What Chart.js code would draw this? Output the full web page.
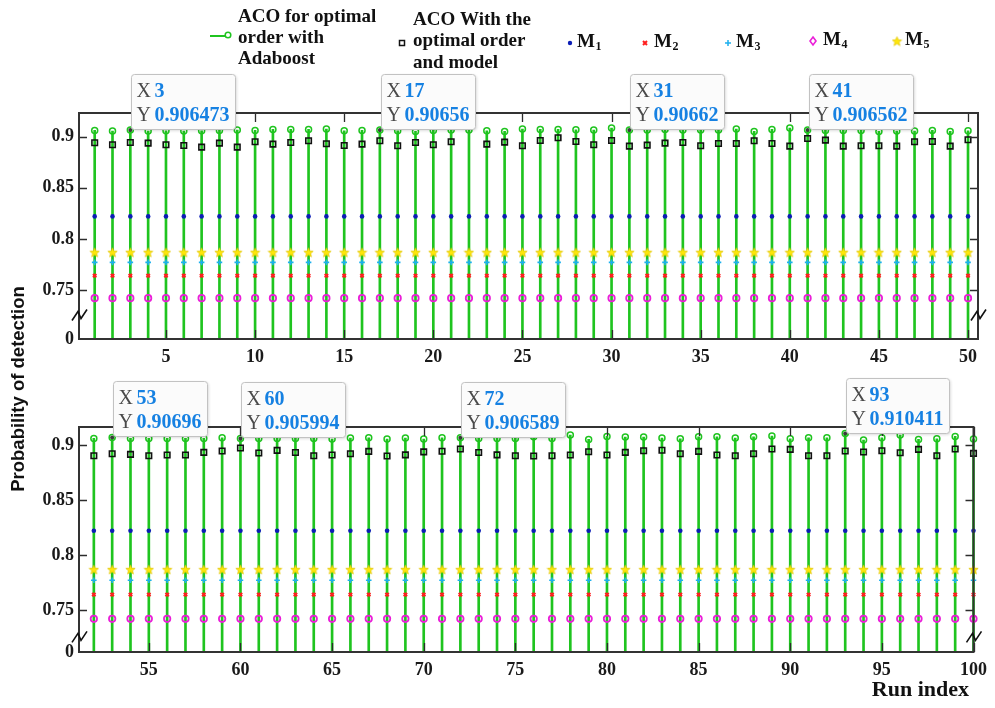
<!DOCTYPE html>
<html>
<head>
<meta charset="utf-8">
<script src="https://cdn.jsdelivr.net/npm/chart.js@4"></script>
<style>
  html, body { margin: 0; padding: 0; background: #ffffff; }
  #wrap { position: relative; width: 995px; height: 708px; }
  #wrap canvas { position: absolute; left: 0; top: 0; }
</style>
</head>
<body>
<div id="wrap">
  <canvas id="panelTop" width="995" height="708"></canvas>
  <canvas id="panelBottom" width="995" height="708"></canvas>
</div>
<script>
// ---- run indices (x categories) ----
const runsTop = [1, 2, 3, 4, 5, 6, 7, 8, 9, 10, 11, 12, 13, 14, 15, 16, 17, 18, 19, 20,
  21, 22, 23, 24, 25, 26, 27, 28, 29, 30, 31, 32, 33, 34, 35, 36, 37, 38, 39, 40,
  41, 42, 43, 44, 45, 46, 47, 48, 49, 50];
const runsBottom = [52, 53, 54, 55, 56, 57, 58, 59, 60, 61, 62, 63, 64, 65, 66, 67, 68, 69, 70,
  71, 72, 73, 74, 75, 76, 77, 78, 79, 80, 81, 82, 83, 84, 85, 86, 87, 88, 89, 90,
  91, 92, 93, 94, 95, 96, 97, 98, 99, 100];

// ---- ACO for optimal order with Adaboost ----
const acoAdaboostTop = [0.90615, 0.90549, 0.906473, 0.90549, 0.90582, 0.90549, 0.90582, 0.90615, 0.90647, 0.90615,
  0.90713, 0.90713, 0.90713, 0.90745, 0.90582, 0.90615, 0.90656, 0.90582, 0.90516, 0.90615,
  0.90647, 0.90647, 0.90582, 0.90516, 0.90745, 0.90713, 0.90713, 0.9068, 0.90647, 0.90843,
  0.90662, 0.90647, 0.90713, 0.90647, 0.90647, 0.90647, 0.90745, 0.90516, 0.90713, 0.90843,
  0.906562, 0.90615, 0.90615, 0.90615, 0.90516, 0.90549, 0.90549, 0.90615, 0.90516, 0.90582];
const acoAdaboostBottom = [0.90605, 0.90696, 0.90605, 0.90605, 0.90605, 0.90605, 0.90605, 0.90666, 0.905994,
  0.90605, 0.90605, 0.90605, 0.90605, 0.90545, 0.90636, 0.90666, 0.90545, 0.90636, 0.90545,
  0.90666, 0.906589, 0.90605, 0.90605, 0.90605, 0.90757, 0.90605, 0.90908, 0.90514, 0.90787,
  0.90726, 0.90726, 0.90636, 0.90575, 0.90757, 0.90757, 0.90636, 0.90757, 0.90817, 0.90575,
  0.90666, 0.90666, 0.910411, 0.90454, 0.90666, 0.90908, 0.90514, 0.90575, 0.90787, 0.90545];

// ---- ACO with the optimal order and model ----
const acoModelTop = [0.89405, 0.89208, 0.89437, 0.89372, 0.89208, 0.89143, 0.88979, 0.89372, 0.88979, 0.89503,
  0.89274, 0.89437, 0.89601, 0.89307, 0.89143, 0.89274, 0.89601, 0.8911, 0.89437, 0.89208,
  0.89503, null, 0.89274, 0.8947, 0.8911, 0.89634, 0.89895, 0.89535, 0.89208, 0.89634,
  0.89078, 0.89176, 0.89372, 0.89437, 0.8911, 0.8934, 0.8934, 0.89601, 0.8934, 0.89078,
  0.8983, 0.89666, 0.89078, 0.8911, 0.8911, 0.89078, 0.89503, 0.89535, 0.89078, 0.89699];
const acoModelBottom = [0.8903, 0.89211, 0.89151, 0.8903, 0.8909, 0.8909, 0.89332, 0.89454, 0.89726,
  0.89272, 0.89514, 0.89317, 0.8903, 0.8909, 0.89211, 0.89423, 0.89, 0.89105, 0.89378,
  0.89439, 0.89636, 0.89317, 0.89105, 0.8903, 0.89, 0.8903, 0.8909, 0.89393, 0.8909,
  0.89332, 0.89484, 0.8953, 0.89211, 0.89423, 0.8909, 0.8903, 0.89211, 0.89636, 0.89605,
  0.8903, 0.8903, 0.89454, 0.89363, 0.89484, 0.89302, 0.89605, 0.8903, 0.89636, 0.89242];

// ---- single models: constant detection probability over all runs ----
const modelNames = ['M1', 'M2', 'M3', 'M4', 'M5'];
const modelLevels = [0.822, 0.764, 0.777, 0.742, 0.787];

// ---- ticks and annotated runs ----
const xTicksTop = [5, 10, 15, 20, 25, 30, 35, 40, 45, 50];
const xTicksBottom = [55, 60, 65, 70, 75, 80, 85, 90, 95, 100];
const yTicks = [0.75, 0.8, 0.85, 0.9];
const yBreakLabel = '0';
const tipRunsTop = [3, 17, 31, 41];
const tipRunsBottom = [53, 60, 72, 93];

const legendAdaboost = ['ACO for optimal', 'order with', 'Adaboost'];
const legendModel = ['ACO With the', 'optimal order', 'and model'];

// ---- styling ----
const SERIF = "'Liberation Serif', 'Times New Roman', serif";
const SANS = "'Liberation Sans', Arial, sans-serif";
const GREEN = '#1fc41f';
const MODEL_COLORS = ['#0b1db6', '#ff1e1e', '#1cb0ee', '#ea1fd8', '#ffe20a'];

function starImage(size, fill, stroke) {
  const c = document.createElement('canvas');
  c.width = size; c.height = size;
  const g = c.getContext('2d');
  const cx = size / 2, cy = size / 2 + 0.6, R = size / 2 - 0.6, r = R * 0.45;
  g.beginPath();
  for (let i = 0; i < 10; i++) {
    const a = -Math.PI / 2 + i * Math.PI / 5;
    const rr = i % 2 ? r : R;
    g.lineTo(cx + rr * Math.cos(a), cy + rr * Math.sin(a));
  }
  g.closePath();
  g.fillStyle = fill; g.fill();
  g.strokeStyle = stroke; g.lineWidth = 0.7; g.stroke();
  return c;
}
const STAR = starImage(11, '#ffe60a', '#e0c400');

const MODEL_STYLES = [
  { pointStyle: 'circle', pointRadius: 2.3, pointBorderWidth: 0, pointBackgroundColor: MODEL_COLORS[0] },
  { pointStyle: 'crossRot', pointRadius: 2.4, pointBorderWidth: 2, pointBackgroundColor: MODEL_COLORS[1] },
  { pointStyle: 'cross', pointRadius: 2.8, pointBorderWidth: 1.6, pointBackgroundColor: MODEL_COLORS[2] },
  { pointStyle: 'circle', pointRadius: 3.2, pointBorderWidth: 1.8, pointBackgroundColor: 'rgba(0,0,0,0)' },
  { pointStyle: STAR, pointRadius: 5.5, pointBorderWidth: 0, pointBackgroundColor: MODEL_COLORS[4] }
];

const MARK_CLIP = { left: 8, right: 8, top: 8, bottom: 8 };
const STEM_CLIP = { left: 8, right: 8, top: 8, bottom: 0 };

function panelDatasets(runs, adaboost, modelVals) {
  const pts = vals => runs.map((x, i) => ({ x: x, y: vals[i] }));
  const sets = [
    { type: 'bar', role: 'stem', label: 'stem', data: pts(adaboost), backgroundColor: GREEN,
      barThickness: 2, order: 20, clip: STEM_CLIP },
    { type: 'line', role: 'aco', label: legendAdaboost.join(' '), data: pts(adaboost), showLine: false,
      pointStyle: 'circle', pointRadius: 3, pointBorderWidth: 1.5, borderColor: GREEN,
      pointBorderColor: GREEN, pointBackgroundColor: 'rgba(255,255,255,0)', order: 1, clip: MARK_CLIP },
    { type: 'line', role: 'model', label: legendModel.join(' '), data: pts(modelVals), showLine: false,
      pointStyle: 'rect', pointRadius: 3.9, pointBorderWidth: 1.6, borderColor: '#111111',
      pointBorderColor: '#111111', pointBackgroundColor: 'rgba(0,0,0,0)', order: 2, clip: MARK_CLIP }
  ];
  modelNames.forEach((name, k) => {
    sets.push(Object.assign({
      type: 'line', role: 'single', label: name, data: runs.map(x => ({ x: x, y: modelLevels[k] })),
      showLine: false, borderColor: MODEL_COLORS[k], pointBorderColor: MODEL_COLORS[k],
      order: 3 + k, clip: MARK_CLIP
    }, MODEL_STYLES[k]));
  });
  return sets;
}

// axes frame with inward ticks and axis-break marks
const framePlugin = {
  id: 'frame',
  afterDatasetsDraw(chart, args, opts) {
    const { ctx, chartArea: a } = chart;
    const x = chart.scales.x, y = chart.scales.y;
    ctx.save();
    ctx.strokeStyle = '#2c2c2c';
    ctx.lineWidth = 1.3;
    ctx.beginPath();
    x.ticks.forEach(t => {
      const px = Math.round(x.getPixelForValue(t.value)) + 0.5;
      ctx.moveTo(px, a.bottom); ctx.lineTo(px, a.bottom - 9);
      ctx.moveTo(px, a.top); ctx.lineTo(px, a.top + 9);
    });
    y.ticks.forEach(t => {
      if (t.value === y.min) return;
      const py = Math.round(y.getPixelForValue(t.value)) + 0.5;
      ctx.moveTo(a.left, py); ctx.lineTo(a.left + 8, py);
      ctx.moveTo(a.right, py); ctx.lineTo(a.right - 8, py);
    });
    ctx.stroke();
    ctx.lineWidth = 2;
    ctx.strokeStyle = '#333333';
    ctx.strokeRect(a.left, a.top, a.right - a.left, a.bottom - a.top);
    // break symbols on both vertical axes
    const by = y.getPixelForValue(opts.breakAt);
    ctx.strokeStyle = '#111111';
    ctx.lineWidth = 1.6;
    [a.left, a.right].forEach(ax => {
      ctx.beginPath();
      ctx.moveTo(ax - 7, by + 6);
      ctx.lineTo(ax - 1, by - 3);
      ctx.lineTo(ax + 2, by + 4);
      ctx.lineTo(ax + 8, by - 5);
      ctx.stroke();
    });
    ctx.restore();
  }
};

// data tips pinned to selected runs of the Adaboost series
const tipPlugin = {
  id: 'datatips',
  afterDraw(chart, args, opts) {
    const ctx = chart.ctx;
    const idx = chart.data.datasets.findIndex(d => d.role === 'aco');
    const ds = chart.data.datasets[idx];
    const meta = chart.getDatasetMeta(idx);
    opts.runs.forEach(run => {
      const i = ds.data.findIndex(p => p.x === run);
      if (i < 0) return;
      const el = meta.data[i];
      const px = el.x, py = el.y;
      const val = String(ds.data[i].y);
      ctx.save();
      // marker dot
      ctx.fillStyle = '#3a3a3a';
      ctx.beginPath(); ctx.arc(px, py, 2, 0, Math.PI * 2); ctx.fill();
      ctx.font = `bold 20px ${SERIF}`;
      const w = Math.max(ctx.measureText(val).width, ctx.measureText(String(run)).width);
      const bx = Math.round(px + 1) + 0.5, bh = 55, bw = Math.round(23 + w + 6);
      const byTop = Math.round(py - 1 - bh) + 0.5;
      ctx.shadowColor = 'rgba(0,0,0,0.18)';
      ctx.shadowBlur = 3;
      ctx.shadowOffsetX = 1; ctx.shadowOffsetY = 1;
      ctx.fillStyle = '#fbfbfb';
      ctx.beginPath(); ctx.roundRect(bx, byTop, bw, bh, 3); ctx.fill();
      ctx.shadowColor = 'rgba(0,0,0,0)';
      ctx.strokeStyle = '#c2c2c2'; ctx.lineWidth = 1;
      ctx.stroke();
      ctx.textBaseline = 'middle'; ctx.textAlign = 'left';
      ctx.font = `20px ${SERIF}`;
      ctx.fillStyle = '#4a4a4a';
      ctx.fillText('X', bx + 5, byTop + 17);
      ctx.fillText('Y', bx + 5, byTop + 41);
      ctx.font = `bold 20px ${SERIF}`;
      ctx.fillStyle = '#1681e2';
      ctx.fillText(String(run), bx + 23, byTop + 17);
      ctx.fillText(val, bx + 23, byTop + 41);
      ctx.restore();
    });
  }
};

function drawSubscripted(ctx, name, x, y) {
  ctx.font = `bold 19px ${SERIF}`;
  ctx.textAlign = 'left'; ctx.textBaseline = 'middle';
  ctx.fillStyle = '#111111';
  const base = name.slice(0, 1), sub = name.slice(1);
  ctx.fillText(base, x, y);
  const w = ctx.measureText(base).width;
  ctx.font = `bold 12px ${SERIF}`;
  ctx.fillText(sub, x + w + 0.5, y + 5);
}

// legend row above the upper panel
const legendPlugin = {
  id: 'topLegend',
  afterDraw(chart) {
    const ctx = chart.ctx;
    const sets = chart.data.datasets;
    const aco = sets.find(d => d.role === 'aco');
    const mdl = sets.find(d => d.role === 'model');
    ctx.save();
    // Adaboost entry
    ctx.strokeStyle = aco.pointBorderColor; ctx.lineWidth = 2;
    ctx.beginPath(); ctx.moveTo(210, 36); ctx.lineTo(226, 36); ctx.stroke();
    ctx.lineWidth = 1.5;
    ctx.beginPath(); ctx.arc(228, 35, 2.8, 0, Math.PI * 2); ctx.stroke();
    ctx.fillStyle = '#111111';
    ctx.font = `bold 19px ${SERIF}`;
    ctx.textAlign = 'left'; ctx.textBaseline = 'middle';
    legendAdaboost.forEach((t, i) => ctx.fillText(t, 238, 17 + i * 21));
    // model entry
    ctx.strokeStyle = mdl.pointBorderColor; ctx.lineWidth = 1.5;
    ctx.strokeRect(399.5, 40.5, 5, 5);
    ctx.fillStyle = '#111111';
    legendModel.forEach((t, i) => ctx.fillText(t, 413, 20 + i * 21.5));
    // single models
    const mx = [570, 645, 728, 813, 897], tx = [577, 654, 736, 823, 905];
    const my = 42;
    sets.filter(d => d.role === 'single').forEach((d, k) => {
      const c = d.pointBorderColor;
      const x0 = mx[k];
      ctx.save();
      if (k === 0) {
        ctx.fillStyle = c; ctx.beginPath(); ctx.arc(x0, my + 1, 2.2, 0, Math.PI * 2); ctx.fill();
      } else if (k === 1) {
        ctx.strokeStyle = c; ctx.lineWidth = 2;
        ctx.beginPath(); ctx.moveTo(x0 - 2, my - 1); ctx.lineTo(x0 + 2, my + 3);
        ctx.moveTo(x0 + 2, my - 1); ctx.lineTo(x0 - 2, my + 3); ctx.stroke();
      } else if (k === 2) {
        ctx.strokeStyle = c; ctx.lineWidth = 1.5;
        ctx.beginPath(); ctx.moveTo(x0 - 3, my + 1); ctx.lineTo(x0 + 3, my + 1);
        ctx.moveTo(x0, my - 2); ctx.lineTo(x0, my + 4); ctx.stroke();
      } else if (k === 3) {
        ctx.strokeStyle = c; ctx.lineWidth = 1.6;
        ctx.beginPath(); ctx.moveTo(x0, my - 5); ctx.lineTo(x0 + 3, my - 1);
        ctx.lineTo(x0, my + 3); ctx.lineTo(x0 - 3, my - 1); ctx.closePath(); ctx.stroke();
      } else {
        ctx.drawImage(d.pointStyle, x0 - 5.5, my - 6.5);
      }
      ctx.restore();
      drawSubscripted(ctx, d.label, tx[k], k >= 3 ? my - 2 : my);
    });
    ctx.restore();
  }
};

// axis titles shared by both panels
const titlePlugin = {
  id: 'pageTitles',
  afterDraw(chart) {
    const ctx = chart.ctx;
    ctx.save();
    ctx.fillStyle = '#111111';
    ctx.font = `bold 18.5px ${SANS}`;
    ctx.textAlign = 'center'; ctx.textBaseline = 'middle';
    ctx.translate(19, 389);
    ctx.rotate(-Math.PI / 2);
    ctx.fillText('Probability of detection', 0, 0);
    ctx.restore();
    ctx.save();
    ctx.fillStyle = '#111111';
    ctx.font = `bold 22px ${SERIF}`;
    ctx.textAlign = 'right'; ctx.textBaseline = 'middle';
    ctx.fillText('Run index', 969, 690);
    ctx.restore();
  }
};

function panelConfig(runs, adaboost, modelVals, xTicks, xRange, yRange, padding, xHeight, tipRuns, extraPlugins) {
  return {
    data: { datasets: panelDatasets(runs, adaboost, modelVals) },
    options: {
      responsive: false,
      animation: false,
      events: [],
      layout: { padding: padding },
      plugins: {
        legend: { display: false },
        tooltip: { enabled: false },
        frame: { breakAt: 0.726 },
        datatips: { runs: tipRuns }
      },
      scales: {
        x: {
          type: 'linear', min: xRange[0], max: xRange[1], offset: false,
          grid: { display: false, drawTicks: false },
          border: { display: false },
          afterBuildTicks: s => { s.ticks = xTicks.map(v => ({ value: v })); },
          afterFit: s => { s.height = xHeight; },
          ticks: { padding: 8, color: '#1a1a1a', font: { family: SERIF, size: 18, weight: 'bold' },
                   maxRotation: 0, autoSkip: false, callback: v => String(v) }
        },
        y: {
          type: 'linear', min: yRange[0], max: yRange[1],
          grid: { display: false, drawTicks: false },
          border: { display: false },
          afterBuildTicks: s => { s.ticks = [{ value: s.min }].concat(yTicks.map(v => ({ value: v }))); },
          afterFit: s => { s.width = 79; },
          ticks: { padding: 5, color: '#1a1a1a', font: { family: SERIF, size: 18, weight: 'bold' },
                   autoSkip: false,
                   callback: function (v) { return v === this.min ? yBreakLabel : String(v); } }
        }
      }
    },
    plugins: [framePlugin, tipPlugin].concat(extraPlugins)
  };
}

new Chart(document.getElementById('panelTop'),
  panelConfig(runsTop, acoAdaboostTop, acoModelTop, xTicksTop, [0.12, 50.56], [0.702, 0.9232],
    { top: 113, right: 17, left: 0, bottom: 338 }, 31, tipRunsTop, [legendPlugin]));

new Chart(document.getElementById('panelBottom'),
  panelConfig(runsBottom, acoAdaboostBottom, acoModelBottom, xTicksBottom, [51.19, 100], [0.7118, 0.9164],
    { top: 427, right: 17, left: 0, bottom: 0 }, 56, tipRunsBottom, [titlePlugin]));
</script>
</body>
</html>
